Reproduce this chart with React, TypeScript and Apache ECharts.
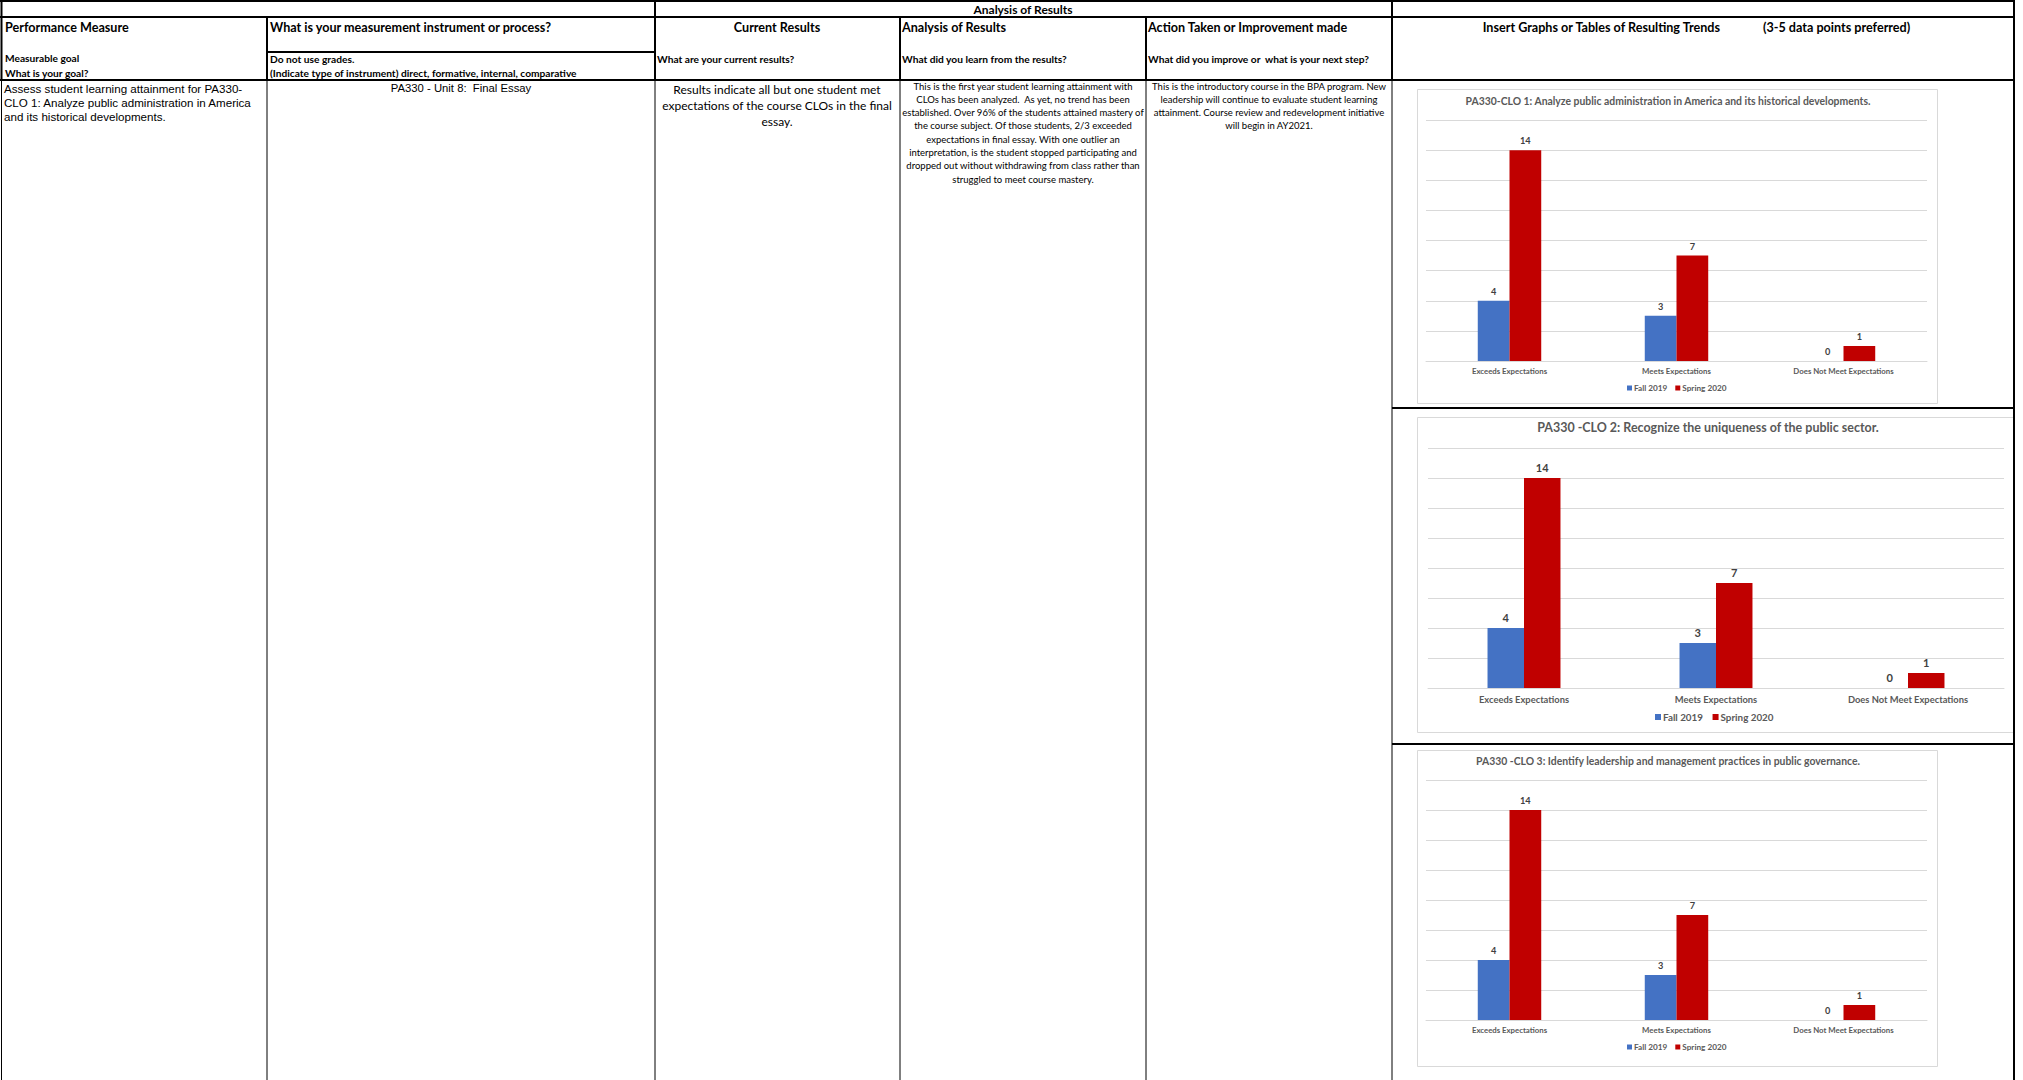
import React, { useEffect, useRef } from 'react';
import * as echarts from 'echarts';

// Chart data: three CLO charts, same categories and terms
const categories = ['Exceeds Expectations', 'Meets Expectations', 'Does Not Meet Expectations'];
const termNames = ['Fall 2019', 'Spring 2020'];
const clo1Fall = [4, 3, 0];
const clo1Spring = [14, 7, 1];
const clo2Fall = [4, 3, 0];
const clo2Spring = [14, 7, 1];
const clo3Fall = [4, 3, 0];
const clo3Spring = [14, 7, 1];
const chartTitles = [
  'PA330-CLO 1: Analyze public administration in America and its historical developments.',
  'PA330 -CLO 2: Recognize the uniqueness of the public sector.',
  'PA330 -CLO 3: Identify leadership and management practices in public governance.',
];
const yMin = 0;
const yMax = 16;
const yStep = 2;

// Table text
const goalLines = [
  'Assess student learning attainment for PA330-',
  'CLO 1: Analyze public administration in America',
  'and its historical developments.',
];
const instrumentText = 'PA330 - Unit 8:  Final Essay';
const resultLines = [
  'Results indicate all but one student met',
  'expectations of the course CLOs in the final',
  'essay.',
];
const analysisLines = [
  'This is the first year student learning attainment with',
  'CLOs has been analyzed.  As yet, no trend has been',
  'established. Over 96% of the students attained mastery of',
  'the course subject. Of those students, 2/3 exceeded',
  'expectations in final essay. With one outlier an',
  'interpretation, is the student stopped participating and',
  'dropped out without withdrawing from class rather than',
  'struggled to meet course mastery.',
];
const actionLines = [
  'This is the introductory course in the BPA program. New',
  'leadership will continue to evaluate student learning',
  'attainment. Course review and redevelopment initiative',
  'will begin in AY2021.',
];

const FALL_COLOR = '#4472C4';
const SPRING_COLOR = '#C00000';
const GRID_COLOR = '#d9d9d9';
const FONT = 'Lato';

type TxtOpts = { bold?: boolean; align?: string; family?: string; color?: string };

function txt(text: string, x: number, y: number, size: number, o: TxtOpts = {}) {
  return {
    type: 'text',
    x,
    y,
    silent: true,
    z: 50,
    style: {
      text,
      fontSize: size,
      fontFamily: o.family || FONT,
      fontWeight: o.bold ? 'bold' : 'normal',
      fill: o.color || '#000',
      align: o.align || 'left',
      verticalAlign: 'middle',
    },
  };
}

function lines(arr: string[], x: number, y0: number, step: number, size: number, o: TxtOpts = {}) {
  return arr.map((t, i) => txt(t, x, y0 + i * step, size, o));
}

function ln(x1: number, y1: number, x2: number, y2: number, w: number) {
  return {
    type: 'line',
    silent: true,
    z: 60,
    shape: { x1, y1, x2, y2 },
    style: { stroke: '#000', lineWidth: w },
  };
}

// Layout of the three embedded charts
const panels = [
  { fall: clo1Fall, spring: clo1Spring, box: [1417, 89, 1937, 403], grid: [1426, 120, 501, 241], titleX: 1668, titleY: 96, legendX: 1627, legendY: 384, s: 1 },
  { fall: clo2Fall, spring: clo2Spring, box: [1417, 417, 2014, 732], grid: [1428, 448, 576, 240], titleX: 1708, titleY: 421, legendX: 1655, legendY: 712, s: 1.2 },
  { fall: clo3Fall, spring: clo3Spring, box: [1417, 750, 1937, 1066], grid: [1426, 780, 501, 240], titleX: 1668, titleY: 756, legendX: 1627, legendY: 1043, s: 1 },
];

function buildOption() {
  const title: any[] = [];
  const legend: any[] = [];
  const grid: any[] = [];
  const xAxis: any[] = [];
  const yAxis: any[] = [];
  const series: any[] = [];
  const boxes: any[] = [];

  panels.forEach((p, i) => {
    const s = p.s;
    title.push({
      text: chartTitles[i],
      left: p.titleX,
      top: p.titleY,
      textAlign: 'center',
      padding: 0,
      textStyle: { fontFamily: FONT, fontWeight: 'bold', fontSize: 10.4 * s, color: '#595959' },
    });
    legend.push({
      data: termNames,
      left: p.legendX,
      top: p.legendY,
      padding: 0,
      icon: 'rect',
      itemWidth: 5 * s,
      itemHeight: 5 * s,
      itemGap: 8 * s,
      selectedMode: false,
      textStyle: { fontFamily: FONT, fontWeight: 'bold', fontSize: 8.2 * s, color: '#595959', padding: [0, 0, 0, -3] },
    });
    grid.push({ left: p.grid[0], top: p.grid[1], width: p.grid[2], height: p.grid[3], containLabel: false });
    xAxis.push({
      type: 'category',
      gridIndex: i,
      data: categories,
      axisLine: { lineStyle: { color: GRID_COLOR } },
      axisTick: { show: false },
      axisLabel: { interval: 0, margin: 6 * s, fontFamily: FONT, fontWeight: 'bold', fontSize: 7.8 * s, color: '#595959' },
    });
    yAxis.push({
      type: 'value',
      gridIndex: i,
      min: yMin,
      max: yMax,
      interval: yStep,
      axisLabel: { show: false },
      axisLine: { show: false },
      axisTick: { show: false },
      splitLine: { lineStyle: { color: GRID_COLOR, width: 1 } },
    });
    const label = {
      show: true,
      position: 'top',
      distance: 5,
      fontFamily: FONT,
      fontWeight: 'bold',
      fontSize: 9.2 * s,
      color: '#404040',
    };
    series.push({
      type: 'bar',
      name: termNames[0],
      xAxisIndex: i,
      yAxisIndex: i,
      data: p.fall,
      barWidth: '19%',
      barGap: '0%',
      itemStyle: { color: FALL_COLOR },
      label,
    });
    series.push({
      type: 'bar',
      name: termNames[1],
      xAxisIndex: i,
      yAxisIndex: i,
      data: p.spring,
      barWidth: '19%',
      barGap: '0%',
      itemStyle: { color: SPRING_COLOR },
      label,
    });
    const [x1, y1, x2, y2] = p.box;
    boxes.push({
      type: 'rect',
      silent: true,
      z: -10,
      shape: { x: x1 + 0.5, y: y1 + 0.5, width: x2 - x1, height: y2 - y1 },
      style: { fill: 'none', stroke: GRID_COLOR, lineWidth: 1 },
    });
  });

  // Table grid lines
  const T = 2;
  const t = 1;
  const rules = [
    ln(0, 1, 2015, 1, T),
    ln(0, 17, 2015, 17, T),
    ln(0, 80, 2015, 80, T),
    ln(1.5, 0, 1.5, 80, T),
    ln(1.5, 80, 1.5, 1080, t),
    ln(655, 0, 655, 80, T),
    ln(655, 80, 655, 1080, t),
    ln(1392, 0, 1392, 80, T),
    ln(1392, 80, 1392, 1080, t),
    ln(2014, 0, 2014, 1080, T),
    ln(267, 17, 267, 80, T),
    ln(267, 80, 267, 1080, t),
    ln(900, 17, 900, 80, T),
    ln(900, 80, 900, 1080, t),
    ln(1146, 17, 1146, 80, T),
    ln(1146, 80, 1146, 1080, t),
    ln(267, 52, 655, 52, T),
    ln(1392, 408, 2015, 408, T),
    ln(1392, 744, 2015, 744, T),
  ];

  const H = 12.6;
  const S = 10.2;
  const texts = [
    txt('Analysis of Results', 1023, 9.5, 12, { bold: true, align: 'center' }),
    txt('Performance Measure', 5, 27, H, { bold: true }),
    txt('What is your measurement instrument or process?', 270, 27, H, { bold: true }),
    txt('Current Results', 777, 27, H, { bold: true, align: 'center' }),
    txt('Analysis of Results', 902, 27, H, { bold: true }),
    txt('Action Taken or Improvement made', 1148, 27, H, { bold: true }),
    txt('Insert Graphs or Tables of Resulting Trends', 1720, 27, H, { bold: true, align: 'right' }),
    txt('(3-5 data points preferred)', 1763, 27, H, { bold: true }),
    txt('Measurable goal', 5, 57.5, S, { bold: true }),
    txt('What is your goal?', 5, 72.5, S, { bold: true }),
    txt('Do not use grades.', 270, 59, S, { bold: true }),
    txt('(Indicate type of instrument) direct, formative, internal, comparative', 270, 73, S, { bold: true }),
    txt('What are your current results?', 657, 59, S, { bold: true }),
    txt('What did you learn from the results?', 902, 59, S, { bold: true }),
    txt('What did you improve or  what is your next step?', 1148, 59, S, { bold: true }),
    ...lines(goalLines, 4, 88, 14, 11.6, { family: 'Liberation Sans' }),
    txt(instrumentText, 461, 88, 11.3, { family: 'Liberation Sans', align: 'center' }),
    ...lines(resultLines, 777, 89, 16, 12, { align: 'center' }),
    ...lines(analysisLines, 1023, 86, 13.3, 9.5, { align: 'center' }),
    ...lines(actionLines, 1269, 86, 13.3, 9.5, { align: 'center' }),
  ];

  return {
    animation: false,
    backgroundColor: '#ffffff',
    title,
    legend,
    grid,
    xAxis,
    yAxis,
    series,
    graphic: { elements: [...boxes, ...rules, ...texts] },
  };
}

export default function App() {
  const ref = useRef<HTMLDivElement>(null);
  useEffect(() => {
    if (!ref.current) return;
    const chart = echarts.init(ref.current, undefined, { renderer: 'svg' });
    chart.setOption(buildOption() as any);
    return () => chart.dispose();
  }, []);
  return (
    <div
      ref={ref}
      style={{ position: 'absolute', left: 0, top: 0, width: 2023, height: 1080, background: '#fff' }}
    />
  );
}
